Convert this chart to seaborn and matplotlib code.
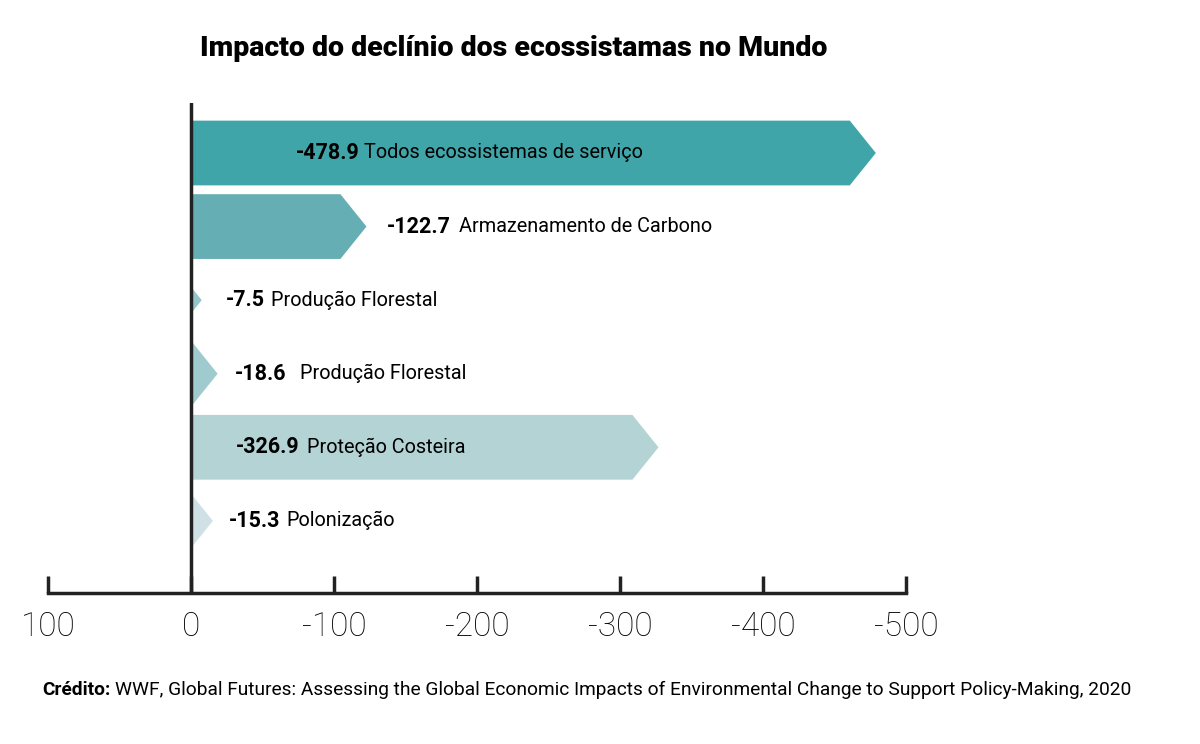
import matplotlib
matplotlib.use('Agg')
import matplotlib.pyplot as plt
import pandas as pd
import seaborn as sns
from matplotlib.patches import Polygon

# Data
rows = ['r0', 'r1', 'r2', 'r3', 'r4', 'r5']
names = ['Todos ecossistemas de serviço', 'Armazenamento de Carbono', 'Produção Florestal',
         'Produção Florestal', 'Proteção Costeira', 'Polonização']
values = [-478.9, -122.7, -7.5, -18.6, -326.9, -15.3]
value_labels = ['-478.9', '-122.7', '-7.5', '-18.6', '-326.9', '-15.3']
tick_values = [100, 0, -100, -200, -300, -400, -500]
tick_labels = ['100', '0', '-100', '-200', '-300', '-400', '-500']

# styling
colors = ['#40a5a9', '#65aeb4', '#93c5ca', '#9fcace', '#b3d3d5', '#cfe1e4']
label_x = [-73.4, -137, -24.5, -30.8, -31.5, -26.6]
name_gap = [3, 6, 4, 10, 5, 4]
tip_depth = 18.2
bar_h = 0.88
dark = '#222222'

df = pd.DataFrame({'row': rows, 'value': values})

sns.set_style('white')
plt.rcParams['font.family'] = ['Roboto', 'DejaVu Sans']

fig = plt.figure(figsize=(12, 7.44), dpi=100)
ax = fig.add_axes([0.04, 0.203, 0.715, 0.6586])

sns.barplot(data=df, x='value', y='row', hue='row', palette=colors, order=rows,
            orient='h', width=bar_h, saturation=1, legend=False, ax=ax)

# turn the rectangles into chevron arrows
for patch in list(ax.patches):
    h = patch.get_height()
    yc = patch.get_y() + h / 2
    mag = abs(patch.get_width())
    fc = patch.get_facecolor()
    patch.remove()
    k = min(1.0, mag / tip_depth)
    hh = h / 2 * k
    body = max(mag - tip_depth, 0)
    pts = [(0, yc - hh), (-body, yc - hh), (-mag, yc), (-body, yc + hh), (0, yc + hh)]
    ax.add_patch(Polygon(pts, closed=True, facecolor=fc, edgecolor='none', zorder=2))

ax.set_xlim(100, -500)
ax.set_ylim(5.98, -0.68)
ax.axvline(0, color=dark, lw=2.5, zorder=5)

for i, (lx, vl, nm, gap) in enumerate(zip(label_x, value_labels, names, name_gap)):
    t = ax.text(lx, i, vl, fontsize=15.5, fontweight='bold', color='black',
                va='center', ha='left', zorder=6)
    ax.annotate(nm, xy=(1, 0.5), xycoords=t, xytext=(gap, 0), textcoords='offset points',
                fontsize=14.3, color='black', va='center', ha='left', zorder=6)

for s in ['top', 'left', 'right']:
    ax.spines[s].set_visible(False)
ax.spines['bottom'].set_color(dark)
ax.spines['bottom'].set_linewidth(2.5)

ax.set_yticks([])
ax.set_xticks(tick_values)
ax.set_xticklabels(tick_labels, fontsize=24, fontweight='light', color='black')
ax.tick_params(axis='x', direction='in', length=12, width=2.5, color=dark, pad=13, bottom=True)
ax.set_xlabel('')
ax.set_ylabel('')

fig.text(514 / 1200, 1 - 48 / 744, 'Impacto do declínio dos ecossistamas no Mundo',
         fontsize=20.5, fontweight='black', color='black', ha='center', va='center')

cred = fig.text(42 / 1200, 1 - 690 / 744, 'Crédito:', fontsize=13.8, fontweight='bold',
                color='black', ha='left', va='center')
ax.annotate('WWF, Global Futures: Assessing the Global Economic Impacts of Environmental Change to Support Policy-Making, 2020',
            xy=(1, 0.5), xycoords=cred, xytext=(3, 0), textcoords='offset points',
            fontsize=13.8, color='black', ha='left', va='center', annotation_clip=False)

fig.savefig('out.png', dpi=100, facecolor='white')
